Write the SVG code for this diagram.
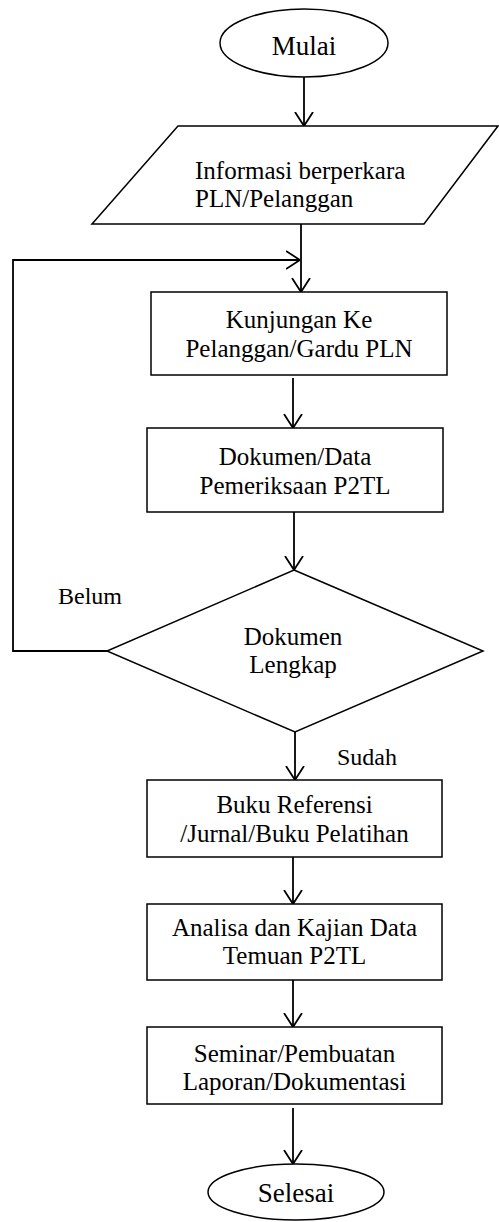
<svg xmlns="http://www.w3.org/2000/svg" width="499" height="1222" viewBox="0 0 499 1222">
<defs>
<style>
.shape{fill:#fff;stroke:#000;stroke-width:1.5}
text{font-family:'Liberation Serif','Times New Roman','DejaVu Serif',serif;fill:#000}
.t{font-size:25px;text-anchor:middle}
.te{font-size:27px;text-anchor:middle}
.lbl{font-size:24px}
.c{fill:none;stroke:#000;stroke-width:1.8}
</style>
<marker id="ah" viewBox="0 0 14 20" refX="14" refY="10" markerWidth="14" markerHeight="20" markerUnits="userSpaceOnUse" orient="auto">
<path d="M0,1 L14,10 L0,19" fill="none" stroke="#000" stroke-width="1.8"/>
</marker>
</defs>
<rect width="499" height="1222" fill="#fff"/>
<g id="connectors">
<path class="c" d="M304,77 V126" marker-end="url(#ah)"/>
<path class="c" d="M301,224 V292" marker-end="url(#ah)"/>
<path class="c" d="M107,651 H13 V260 H300" marker-end="url(#ah)"/>
<path class="c" d="M293,378 V428" marker-end="url(#ah)"/>
<path class="c" d="M294,512 V570" marker-end="url(#ah)"/>
<path class="c" d="M295,732 V780" marker-end="url(#ah)"/>
<path class="c" d="M293,857 V904" marker-end="url(#ah)"/>
<path class="c" d="M293,980 V1027" marker-end="url(#ah)"/>
<path class="c" d="M293,1108 V1164" marker-end="url(#ah)"/>
</g>
<g id="mulai" font-family="Liberation Serif, serif">
<ellipse class="shape" cx="304" cy="43" rx="84" ry="34"/>
<text class="te" x="304" y="55">Mulai</text>
</g>
<g id="informasi">
<polygon class="shape" points="178,126 498,126 424,224 92,224"/>
<text class="t" x="195" y="179" style="text-anchor:start">Informasi berperkara</text>
<text class="t" x="195" y="207" style="text-anchor:start">PLN/Pelanggan</text>
</g>
<g id="kunjungan">
<rect class="shape" x="151" y="292" width="296" height="83"/>
<text class="t" x="299" y="328">Kunjungan Ke</text>
<text class="t" x="299" y="357">Pelanggan/Gardu PLN</text>
</g>
<g id="dokumen-data">
<rect class="shape" x="147" y="428" width="296" height="84"/>
<text class="t" x="295" y="465">Dokumen/Data</text>
<text class="t" x="295" y="494">Pemeriksaan P2TL</text>
</g>
<g id="dokumen-lengkap">
<polygon class="shape" points="294,570 483,651 295,732 107,651"/>
<text class="t" x="293" y="645">Dokumen</text>
<text class="t" x="293" y="673">Lengkap</text>
</g>
<g id="labels">
<text class="lbl" x="58" y="604">Belum</text>
<text class="lbl" x="337" y="765">Sudah</text>
</g>
<g id="buku">
<rect class="shape" x="147" y="780" width="295" height="77"/>
<text class="t" x="294.5" y="813">Buku Referensi</text>
<text class="t" x="294.5" y="842">/Jurnal/Buku Pelatihan</text>
</g>
<g id="analisa">
<rect class="shape" x="147" y="904" width="295" height="76"/>
<text class="t" x="294.5" y="936">Analisa dan Kajian Data</text>
<text class="t" x="294.5" y="964">Temuan P2TL</text>
</g>
<g id="seminar">
<rect class="shape" x="147" y="1027" width="295" height="77"/>
<text class="t" x="294.5" y="1062">Seminar/Pembuatan</text>
<text class="t" x="294.5" y="1090">Laporan/Dokumentasi</text>
</g>
<g id="selesai">
<ellipse class="shape" cx="296" cy="1192" rx="88" ry="28"/>
<text class="te" x="296" y="1202">Selesai</text>
</g>
</svg>
